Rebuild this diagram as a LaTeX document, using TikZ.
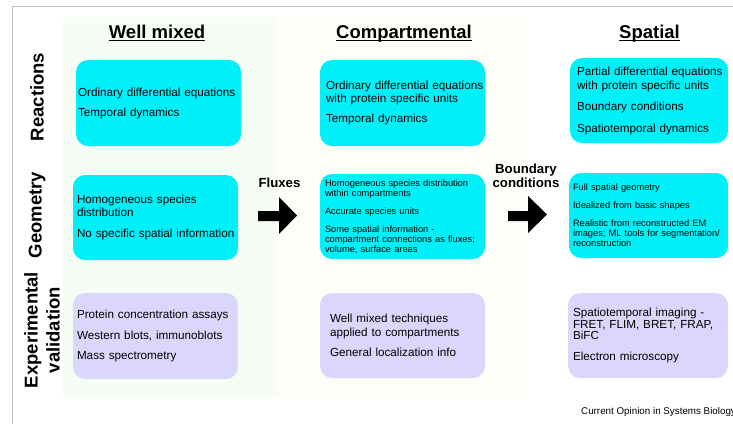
\documentclass[tikz,border=0pt]{standalone}
\usepackage{fontspec}
\setmainfont{Liberation Sans}
\hyphenpenalty=10000
\exhyphenpenalty=10000
\hbadness=10000
\hfuzz=100pt
\definecolor{cyanbox}{RGB}{0,240,250}
\definecolor{lavbox}{RGB}{219,215,252}
\definecolor{wmpanel}{RGB}{246,253,244}
\definecolor{cmpanel}{RGB}{254,254,249}
\definecolor{framegray}{RGB}{190,190,190}
\newcommand\hdul[1]{\setbox0\hbox{#1}\rlap{\rule[-2.6pt]{\wd0}{1.1pt}}\box0}
\newcommand\bigtxt{\fontsize{11.7}{13.5}\selectfont}
\newcommand\smalltxt{\fontsize{9.3}{10}\selectfont}
\tikzset{
  panel/.style={rounded corners=12pt, anchor=north west, align=left, inner ysep=0pt, outer sep=0pt},
  cybox/.style={panel, fill=cyanbox},
  lvbox/.style={panel, fill=lavbox},
  header/.style={font=\fontsize{18.5}{22}\selectfont\bfseries, anchor=base},
  rowlabel/.style={font=\fontsize{18.5}{22}\selectfont\bfseries, rotate=90, align=center},
  flowlabel/.style={font=\fontsize{13.2}{13.5}\selectfont\bfseries, align=center, anchor=base},
}
\begin{document}
\begin{tikzpicture}[x=1pt,y=-1pt]
\useasboundingbox (0,0) rectangle (733,424);
% background panels
\fill[wmpanel] (63,17) rectangle (278,397);
\fill[cmpanel] (278,18) rectangle (527,397);
% frame
\draw[framegray, line width=1pt] (12,424) -- (12,6) -- (733,6);
% headers
\node[header] (hwm) at (157,38) {\hdul{Well mixed}};
\node[header] (hcm) at (404,38) {\hdul{Compartmental}};
\node[header] (hsp) at (649.5,38) {\hdul{Spatial}};
% row labels
\node[rowlabel] (lre) at (37,97) {Reactions};
\node[rowlabel] (lge) at (37,215) {Geometry};
\node[rowlabel] (lev) at (42,330) {Experimental\\validation};
% row 1
\node[cybox, text width=161pt, inner xsep=2pt, minimum height=86pt, font=\bigtxt] (r1wm) at (76,60)
  {\mbox{Ordinary differential equations}\\[6.5pt]Temporal dynamics};
\node[cybox, text width=153pt, inner xsep=6pt, minimum height=86pt, font=\bigtxt] (r1cm) at (320,60)
  {\mbox{Ordinary differential equations}\\with protein specific units\\[6.5pt]Temporal dynamics};
\node[cybox, text width=144pt, inner xsep=7pt, minimum height=85pt, font=\fontsize{11.7}{14}\selectfont] (r1sp) at (570,58)
  {\mbox{Partial differential equations}\\with protein specific units\\[7.5pt]Boundary conditions\\[7.5pt]Spatiotemporal dynamics};
% row 2
\node[cybox, text width=157pt, inner xsep=4pt, minimum height=85pt, font=\fontsize{11.7}{12.5}\selectfont] (r2wm) at (73,175)
  {Homogeneous species\\distribution\\[8.5pt]\mbox{No specific spatial information}};
\node[cybox, text width=155pt, inner xsep=5pt, minimum height=85pt, font=\smalltxt] (r2cm) at (320,174)
  {\mbox{Homogeneous species distribution}\\within compartments\\[8pt]Accurate species units\\[8pt]Some spatial information -\\\mbox{compartment connections as fluxes;}\\volume, surface areas};
\node[cybox, text width=151pt, inner xsep=4pt, minimum height=85pt, font=\smalltxt] (r2sp) at (569,173)
  {Full spatial geometry\\[8pt]Idealized from basic shapes\\[8pt]\mbox{Realistic from reconstructed EM}\\\mbox{images; ML tools for segmentation/}\\reconstruction};
% row 3
\node[lvbox, text width=157pt, inner xsep=4pt, minimum height=86pt, font=\bigtxt] (r3wm) at (73,293)
  {Protein concentration assays\\[6.8pt]Western blots, immunoblots\\[6.8pt]Mass spectrometry};
\node[lvbox, text width=145pt, inner xsep=10pt, minimum height=85pt, font=\bigtxt] (r3cm) at (320,293)
  {Well mixed techniques\\applied to compartments\\[6.5pt]General localization info};
\node[lvbox, text width=150pt, inner xsep=5pt, minimum height=85pt, font=\fontsize{11.7}{11.8}\selectfont] (r3sp) at (568,293)
  {Spatiotemporal imaging -\\\mbox{FRET, FLIM, BRET, FRAP,}\\BiFC\\[9pt]Electron microscopy};
% flow labels and arrows
\node[flowlabel] (lfl) at (279.5,187) {Fluxes};
\node[flowlabel] (lbc) at (526,187) {Boundary\\conditions};
\fill[black] (258,211) -- (279,211) -- (279,197) -- (297,215.5) -- (279,234) -- (279,221) -- (258,221) -- cycle;
\fill[black] (508,211) -- (528,211) -- (528,196) -- (547,214.5) -- (528,233) -- (528,221) -- (508,221) -- cycle;
% caption
\node[font=\fontsize{9.8}{11}\selectfont, anchor=base west, inner sep=0pt] (cap) at (581,414.5) {Current Opinion in Systems Biology};
\end{tikzpicture}
\end{document}
